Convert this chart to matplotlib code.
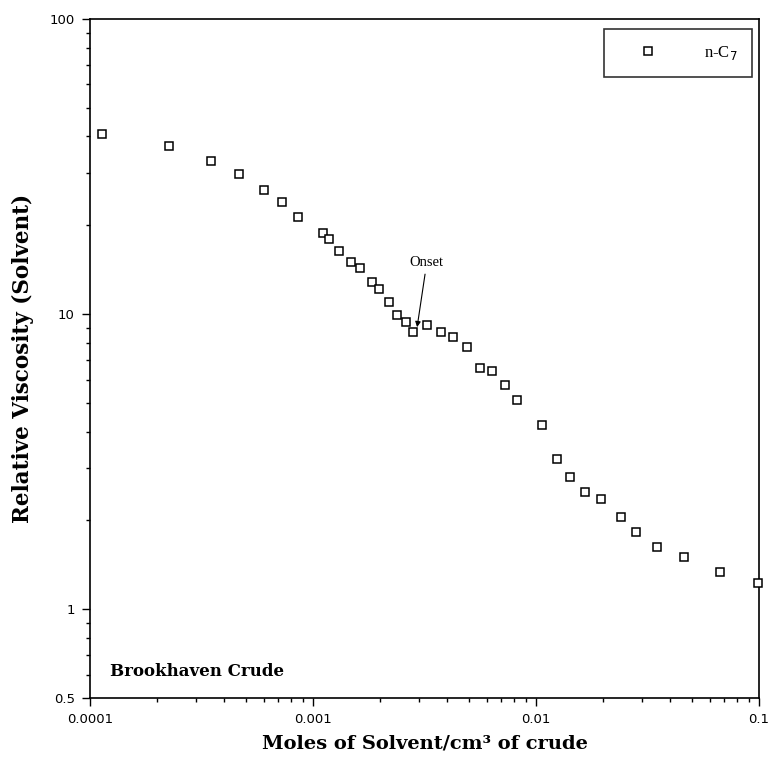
import matplotlib
matplotlib.use("Agg")
import matplotlib.pyplot as plt
from matplotlib.ticker import LogLocator, FixedLocator, FixedFormatter, NullFormatter

# Data
moles_solvent = [1.128e-4, 2.26e-4, 3.49e-4, 4.67e-4, 6.05e-4, 7.28e-4, 8.59e-4,
                 1.105e-3, 1.183e-3, 1.308e-3, 1.485e-3, 1.625e-3, 1.834e-3, 1.983e-3,
                 2.199e-3, 2.373e-3, 2.612e-3, 2.80e-3, 3.255e-3, 3.738e-3, 4.257e-3,
                 4.89e-3, 5.61e-3, 6.37e-3, 7.24e-3, 8.24e-3, 1.067e-2, 1.242e-2,
                 1.425e-2, 1.664e-2, 1.963e-2, 2.405e-2, 2.808e-2, 3.50e-2, 4.61e-2,
                 6.69e-2, 9.87e-2]
rel_viscosity = [40.7, 37.1, 33.0, 29.8, 26.3, 24.0, 21.4,
                 18.8, 17.9, 16.4, 15.0, 14.3, 12.8, 12.2,
                 10.98, 9.9, 9.40, 8.69, 9.18, 8.69, 8.34,
                 7.75, 6.56, 6.43, 5.73, 5.11, 4.21, 3.22,
                 2.80, 2.49, 2.36, 2.06, 1.82, 1.63, 1.50,
                 1.34, 1.23]
series_label = "n-C$_7$"

x_ticks = [0.0001, 0.001, 0.01, 0.1]
x_tick_labels = ["0.0001", "0.001", "0.01", "0.1"]
y_ticks = [0.5, 1, 10, 100]
y_tick_labels = ["0.5", "1", "10", "100"]

onset_point = (2.93e-3, 9.03)
onset_text = (3.24e-3, 15.0)

fig = plt.figure(figsize=(7.68, 7.57), dpi=100)
ax = fig.add_axes([90/768, 1-698/757, (759-90)/768, (698-19)/757])

ax.plot(moles_solvent, rel_viscosity, linestyle="none", marker="s", markersize=5.2,
        markerfacecolor="white", markeredgecolor="black", markeredgewidth=1.1,
        label=series_label, clip_on=False, zorder=3)

ax.set_xscale("log")
ax.set_yscale("log")
ax.set_xlim(0.0001, 0.1)
ax.set_ylim(0.5, 100)

ax.xaxis.set_major_locator(FixedLocator(x_ticks))
ax.xaxis.set_major_formatter(FixedFormatter(x_tick_labels))
ax.xaxis.set_minor_locator(LogLocator(base=10, subs=range(2, 10), numticks=20))
ax.xaxis.set_minor_formatter(NullFormatter())
ax.yaxis.set_major_locator(FixedLocator(y_ticks))
ax.yaxis.set_major_formatter(FixedFormatter(y_tick_labels))
ax.yaxis.set_minor_locator(LogLocator(base=10, subs=range(2, 10), numticks=20))
ax.yaxis.set_minor_formatter(NullFormatter())

for s in ax.spines.values():
    s.set_linewidth(1.2)
    s.set_color("black")

ax.tick_params(which="both", direction="out", top=False, right=False, color="black", width=1.0)
ax.tick_params(which="major", length=6, labelsize=9.5, pad=5)
ax.tick_params(which="minor", length=3)
for lab in ax.get_xticklabels() + ax.get_yticklabels():
    lab.set_family("DejaVu Sans")

ax.set_xlabel("Moles of Solvent/cm³ of crude", fontsize=14, fontweight="bold",
              family="DejaVu Serif", labelpad=6)
ax.set_ylabel("Relative Viscosity (Solvent)", fontsize=15.5, fontweight="bold",
              family="DejaVu Serif")
ax.yaxis.set_label_coords(-0.083, 0.5)

ax.text(0.03, 0.026, "Brookhaven Crude", transform=ax.transAxes, fontsize=12,
        fontweight="bold", family="DejaVu Serif", ha="left", va="bottom")

ax.annotate("Onset", xy=onset_point, xytext=onset_text, fontsize=10.5,
            family="Liberation Serif", ha="center", va="center",
            arrowprops=dict(arrowstyle="-|>", color="black", lw=0.8,
                            mutation_scale=8, shrinkA=2, shrinkB=0))

leg = ax.legend(loc="upper left", bbox_to_anchor=(0.768, 0.985), frameon=True,
                fancybox=False, shadow=False, borderpad=0.9, handlelength=3.5,
                handletextpad=1.6, borderaxespad=0,
                prop={"family": "Liberation Serif", "size": 12})
leg.get_frame().set_edgecolor("black")
leg.get_frame().set_linewidth(1.2)

fig.savefig("out.png", dpi=100)
